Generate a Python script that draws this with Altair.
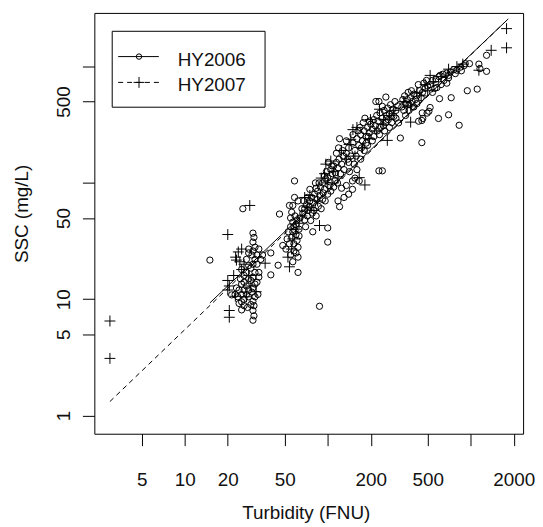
import altair as alt
import pandas as pd

FONT = "Liberation Sans"

# HY2006 samples (turbidity FNU, SSC mg/L)
hy2006 = [
    (15, 21.7), (25.5, 60), (21.3, 10.9), (25, 8.1),
    (30, 37), (30.5, 34), (30, 31), (31, 28), (30, 26), (29.5, 24), (31, 22), (30, 20),
    (29, 18.5), (31, 17), (30, 15.5), (29, 14.5), (31, 13.5), (30, 12.5), (29.5, 11.5),
    (31, 10.5), (30, 9.6), (30.5, 8.8), (30, 8.0), (30.5, 7.2), (30, 6.6),
    (28, 25), (27, 22), (28, 19.5), (27, 17), (28, 15), (27, 13), (26, 12), (27, 11),
    (26, 10), (25, 9.5), (26, 8.8), (28, 10.5), (28, 12), (26, 14), (25, 11), (24, 12),
    (23.5, 10.5), (25, 13.5), (24.5, 15), (22.5, 11), (23, 12.5), (32, 20), (33, 17),
    (32, 14), (32, 24), (33, 27), (34, 22), (35, 24), (32.5, 11), (29, 9), (27.5, 8.5),
    (24, 9.2), (33, 15.5), (28, 27), (26, 16), (25, 18),
    (40, 25), (45, 19.6), (40, 16.2), (62, 17), (48.5, 29), (51, 27), (46, 54),
    (58.6, 104), (58.6, 75), (62, 70), (57, 64), (54, 64),
    (55, 50), (57, 46), (58, 42), (59, 39), (60, 36), (56, 34), (61, 32), (58, 30),
    (62, 28), (60, 44), (63, 40), (57, 38), (59, 52), (61, 48), (55, 42), (63, 35),
    (54, 30), (60, 25), (62, 23), (58, 26), (53, 38), (56, 56), (64, 50), (52, 33),
    (55, 24), (57, 21),
    (67, 55), (69, 60), (71, 65), (73, 58), (75, 70), (77, 75), (79, 68), (81, 80),
    (83, 90), (85, 85), (87, 100), (69, 48), (72, 52), (76, 47.5), (83, 52), (78.6, 38),
    (66, 60), (68, 70), (74, 62), (80, 58), (84, 72), (88, 78), (70, 42), (86, 63),
    (89, 92), (87.6, 8.7), (82, 100), (75, 88), (78, 55), (72, 75),
    (100, 31), (100, 41), (90, 60), (92, 72), (95, 88), (92, 100), (95, 115), (98, 125),
    (100, 110), (102, 95), (105, 130), (108, 120), (110, 140), (112, 105), (115, 150),
    (118, 135), (120, 160), (125, 145), (128, 170), (100, 80), (105, 85), (110, 92),
    (96, 70), (121, 62.5), (121, 240), (115, 180), (130, 130), (93, 82), (104, 102),
    (107, 140), (113, 122), (117, 100), (123, 120), (127, 190), (97, 108), (119, 200),
    (101, 150), (130, 75), (140, 80), (125, 90), (135, 95), (155, 110), (118, 70),
    (135, 180), (140, 200), (145, 170), (150, 220), (155, 190), (160, 240), (165, 210),
    (170, 260), (175, 230), (180, 280), (185, 250), (190, 300), (195, 270), (149, 104),
    (149, 88), (166, 104), (160, 130), (140, 150), (170, 160), (180, 190), (190, 210),
    (135, 230), (150, 260), (142, 125), (158, 170), (168, 300), (177, 330), (186, 220),
    (196, 340), (138, 160), (153, 145), (163, 280), (172, 200), (182, 360), (192, 250),
    (200, 320), (205, 290), (210, 350), (215, 310), (220, 380), (225, 340), (232, 400),
    (240, 360), (248, 420), (255, 330), (262, 440), (270, 390), (280, 373), (290, 373),
    (217, 501), (228, 501), (255, 547), (241, 455), (228, 127), (241, 127), (210, 250),
    (230, 260), (250, 280), (270, 300), (280, 330), (300, 420), (310, 460), (205, 230),
    (235, 300), (258, 380), (275, 470), (295, 500), (285, 430), (265, 350), (245, 310),
    (222, 280), (313, 328), (322, 243), (300, 360),
    (330, 450), (340, 420), (350, 480), (360, 520), (370, 470), (380, 540), (390, 500),
    (400, 580), (420, 560), (440, 620), (460, 600), (480, 650), (500, 680), (432, 339),
    (462, 358), (495, 398), (520, 445), (455, 222), (350, 380), (370, 420), (400, 450),
    (420, 480), (335, 520), (345, 560), (365, 600), (385, 620), (410, 520), (430, 700),
    (450, 540), (470, 720), (490, 760), (455, 344), (510, 413), (458, 400),
    (520, 700), (540, 760), (570, 780), (600, 820), (640, 860), (680, 880), (720, 900),
    (760, 940), (800, 930), (850, 990), (900, 1020), (915, 1060), (980, 1060), (595, 358),
    (700, 385), (830, 313), (605, 530), (730, 540), (946, 620), (1110, 640), (560, 650),
    (620, 700), (650, 760), (700, 800), (610, 840), (700, 840), (680, 720), (1140, 1050),
    (1160, 960), (1290, 910), (1290, 1250), (780, 870), (860, 920), (540, 600), (580, 660),
]

# HY2007 samples
hy2007 = [
    (3.0, 6.5), (3.0, 3.1), (20, 36), (28.5, 64), (23.7, 25.5), (22.7, 23), (24.3, 21),
    (20, 14.5), (20.5, 13), (20, 12), (20.5, 8.0), (20.5, 7.0), (25, 27), (23, 21.7),
    (31.6, 11.6), (22.6, 10.6), (26, 20), (28, 16), (29, 13), (27, 10.5), (25, 18),
    (22, 16), (36.5, 20.4),
    (54, 19), (52.7, 23), (56, 27), (60, 40), (63, 45), (57, 33), (72, 62), (80, 58),
    (90, 110), (85, 70), (87.6, 43), (75, 78), (95, 120), (97, 145), (105, 154),
    (110, 125), (118, 110), (125, 190), (100, 100), (135, 160), (150, 287), (145, 237),
    (141, 214), (166, 111), (182, 96), (155, 170), (175, 200), (195, 240), (160, 300),
    (199, 350), (246, 350), (261, 232), (220, 280), (240, 320), (270, 380), (290, 420),
    (230, 430), (380, 333), (340, 500), (380, 460), (420, 600), (450, 560), (480, 700),
    (500, 620), (360, 450), (520, 840), (550, 742), (620, 820), (700, 950), (800, 1000),
    (880, 1050), (1140, 930), (1390, 1380), (1780, 2120), (1780, 1450), (66, 52), (69, 75),
]

# fitted lines (end points)
fit2006 = [(15, 9.3), (1830, 2570)]
fit2007 = [(3.0, 1.32), (1830, 2570)]

x_ticks = [5, 10, 20, 50, 100, 200, 500, 1000, 2000]
y_ticks = [1, 5, 10, 50, 100, 500, 1000]
legend_labels = ["HY2006", "HY2007"]

df06 = pd.DataFrame(hy2006, columns=["t", "s"])
df07 = pd.DataFrame(hy2007, columns=["t", "s"])
dfl06 = pd.DataFrame(fit2006, columns=["t", "s"])
dfl07 = pd.DataFrame(fit2007, columns=["t", "s"])

xscale = alt.Scale(type="log", domain=[2.334, 2323], nice=False, zero=False)
yscale = alt.Scale(type="log", domain=[0.698, 2892], nice=False, zero=False)

xaxis = alt.Axis(
    values=x_ticks, format="d",
    labelExpr="(datum.value == 100 || datum.value == 1000) ? '' : datum.label",
    title="Turbidity (FNU)", grid=False, domain=False,
    tickSize=12, tickColor="black", tickWidth=1,
    labelFont=FONT, labelFontSize=19, labelColor="#111", labelPadding=40,
    labelBaseline="alphabetic", labelOverlap=False, labelFlush=False,
    titleFont=FONT, titleFontSize=19, titleFontWeight="normal", titleColor="#111",
    titleX=213, titleY=85, titleBaseline="alphabetic", titleAlign="center",
)
yaxis = alt.Axis(
    values=y_ticks, format="d",
    labelExpr="(datum.value == 100 || datum.value == 1000) ? '' : datum.label",
    title="SSC (mg/L)", grid=False, domain=False,
    tickSize=12, tickColor="black", tickWidth=1,
    labelFont=FONT, labelFontSize=19, labelColor="#111", labelPadding=13,
    labelAngle=270, labelAlign="center", labelBaseline="alphabetic",
    labelOverlap=False, labelFlush=False,
    titleFont=FONT, titleFontSize=19, titleFontWeight="normal", titleColor="#111",
    titleAngle=270, titleX=-67, titleY=202, titleBaseline="alphabetic", titleAlign="center",
)

X = alt.X("t:Q", scale=xscale, axis=xaxis)
Y = alt.Y("s:Q", scale=yscale, axis=yaxis)

PLUS = "M-1,0H1M0,-1V1"

pts06 = alt.Chart(df06).mark_point(shape="circle", filled=False, size=40, color="black",
                                   strokeWidth=1, opacity=1).encode(x=X, y=Y)
pts07 = alt.Chart(df07).mark_point(shape=PLUS, filled=False, size=121, color="black",
                                   strokeWidth=1, opacity=1).encode(x=X, y=Y)
line06 = alt.Chart(dfl06).mark_line(color="black", strokeWidth=1).encode(x=X, y=Y)
line07 = alt.Chart(dfl07).mark_line(color="black", strokeWidth=1, strokeDash=[5, 4]).encode(x=X, y=Y)

one = alt.Data(values=[{"k": 1}])
leg_box = alt.Chart(one).mark_rect(fill="white", stroke="black", strokeWidth=1).encode(
    x=alt.value(18), x2=alt.value(172), y=alt.value(18.5), y2=alt.value(95))
leg_l1 = alt.Chart(one).mark_rule(color="black", strokeWidth=1).encode(
    x=alt.value(24), x2=alt.value(65), y=alt.value(44))
leg_l2 = alt.Chart(one).mark_rule(color="black", strokeWidth=1, strokeDash=[5, 4]).encode(
    x=alt.value(24), x2=alt.value(65), y=alt.value(70))
leg_p1 = alt.Chart(one).mark_point(shape="circle", filled=False, size=30, color="black",
                                   strokeWidth=1, opacity=1).encode(x=alt.value(45), y=alt.value(44))
leg_p2 = alt.Chart(one).mark_point(shape=PLUS, filled=False, size=121, color="black",
                                   strokeWidth=1, opacity=1).encode(x=alt.value(45), y=alt.value(70))
leg_t1 = alt.Chart(one).mark_text(align="left", baseline="alphabetic", font=FONT, fontSize=19,
                                  color="#111", text=legend_labels[0]).encode(
    x=alt.value(84), y=alt.value(53))
leg_t2 = alt.Chart(one).mark_text(align="left", baseline="alphabetic", font=FONT, fontSize=19,
                                  color="#111", text=legend_labels[1]).encode(
    x=alt.value(84), y=alt.value(79))

chart = alt.layer(
    line06, line07, pts06, pts07,
    leg_box, leg_l1, leg_l2, leg_p1, leg_p2, leg_t1, leg_t2,
).properties(
    width=432, height=424,
    autosize=alt.AutoSizeParams(type="none"),
    padding={"left": 87, "top": 3, "right": 12, "bottom": 90},
    background="white",
).configure_view(stroke="black", strokeWidth=1)

chart.save("out.html", embed_options={"renderer": "svg", "actions": False})
